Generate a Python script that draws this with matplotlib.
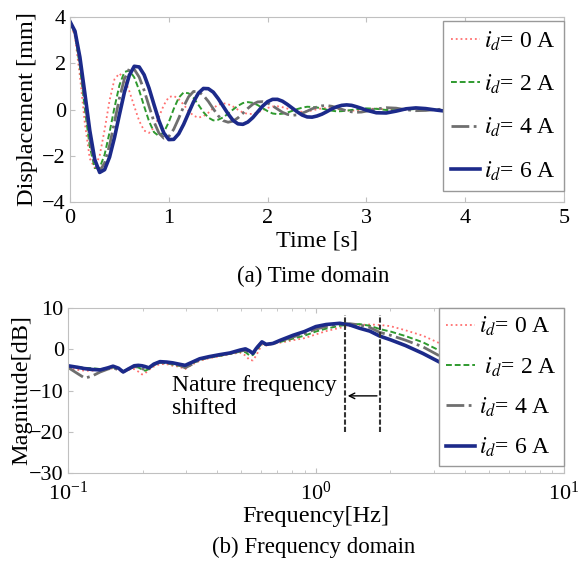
import numpy as np
import matplotlib
matplotlib.use('Agg')
import matplotlib.pyplot as plt

plt.rcParams['font.family'] = ['Liberation Serif', 'DejaVu Serif']
plt.rcParams['mathtext.fontset'] = 'stix'

# --- data: time domain -------------------------------------------------
t = np.round(np.concatenate([np.arange(0, 3.001, 0.05), np.arange(3.1, 5.001, 0.1)]), 2)

x_0A = [3.8, 3.14, 1.45, -0.59, -2.12, -2.53, -1.99, -0.88, 0.39, 1.31,
        1.56, 1.32, 0.80, 0.14, -0.49, -0.91, -1.01, -0.78, -0.32, 0.20,
        0.54, 0.59, 0.45, 0.21, -0.06, -0.27, -0.35, -0.29, -0.14, 0.06,
        0.21, 0.27, 0.23, 0.13, -0.01, -0.13, -0.19, -0.19, -0.13, -0.03,
        0.07, 0.13, 0.14, 0.10, 0.04, -0.03, -0.08, -0.10, -0.08, -0.04,
        0.01, 0.05, 0.07, 0.06, 0.03, -0.01, -0.04, -0.05, -0.04, -0.01,
        0.02,
        0.04, 0.0, -0.03, 0.0, 0.02, 0.0, -0.01, 0.0, 0.01, 0.0,
        0, 0, 0, 0, 0, 0, 0, 0, 0, 0]
x_2A = [3.8, 3.27, 1.86, 0.03, -1.61, -2.53, -2.52, -1.95, -0.99, 0.09,
        1.05, 1.62, 1.69, 1.39, 0.83, 0.14, -0.51, -0.98, -1.15, -0.98,
        -0.54, 0.03, 0.51, 0.74, 0.70, 0.50, 0.20, -0.11, -0.35, -0.47,
        -0.44, -0.34, -0.18, 0.00, 0.16, 0.28, 0.32, 0.29, 0.19, 0.06,
        -0.07, -0.17, -0.20, -0.18, -0.13, -0.06, 0.02, 0.08, 0.12, 0.11,
        0.09, 0.04, -0.01, -0.05, -0.08, -0.07, -0.05, -0.02, 0.01, 0.04,
        0.05,
        0.03, -0.02, -0.03, 0.0, 0.02, 0.01, -0.01, -0.01, 0, 0,
        0, 0, 0, 0, 0, 0, 0, 0, 0, 0]
x_4A = [3.8, 3.34, 2.08, 0.39, -1.25, -2.38, -2.66, -2.31, -1.55, -0.54,
        0.49, 1.32, 1.76, 1.74, 1.40, 0.83, 0.14, -0.53, -1.02, -1.24,
        -1.17, -0.85, -0.38, 0.13, 0.55, 0.78, 0.77, 0.61, 0.35, 0.03,
        -0.27, -0.48, -0.55, -0.50, -0.36, -0.16, 0.05, 0.23, 0.33, 0.34,
        0.28, 0.16, 0.02, -0.12, -0.21, -0.25, -0.23, -0.16, -0.07, 0.03,
        0.11, 0.16, 0.17, 0.14, 0.08, 0.01, -0.06, -0.10, -0.12, -0.11,
        -0.07,
        0.02, 0.08, 0.06, -0.01, -0.05, -0.04, 0.0, 0.02, 0.01, 0,
        0, 0, 0, 0, 0, 0, 0, 0, 0, 0]
x_6A = [3.8, 3.39, 2.26, 0.70, -0.91, -2.16, -2.72, -2.60, -2.06, -1.21,
        -0.22, 0.74, 1.48, 1.87, 1.84, 1.50, 0.92, 0.21, -0.48, -1.02,
        -1.30, -1.29, -1.05, -0.64, -0.15, 0.33, 0.71, 0.91, 0.90, 0.75,
        0.47, 0.14, -0.19, -0.47, -0.62, -0.64, -0.54, -0.35, -0.10, 0.15,
        0.34, 0.44, 0.44, 0.36, 0.22, 0.06, -0.10, -0.24, -0.32, -0.33,
        -0.28, -0.20, -0.09, 0.03, 0.12, 0.18, 0.20, 0.18, 0.12, 0.05,
        -0.03,
        -0.14, -0.15, -0.07, 0.03, 0.07, 0.04, -0.02, -0.07, -0.07, -0.04,
        0.01, 0.03, 0.02, 0.0, -0.01, -0.01, 0.0, 0.01, 0.0, 0.0]

# --- data: frequency domain --------------------------------------------
f = [0.100, 0.110, 0.117, 0.125, 0.135, 0.145, 0.152, 0.160, 0.167, 0.175,
     0.185, 0.192, 0.199, 0.205, 0.212, 0.222, 0.235, 0.250, 0.265, 0.280,
     0.297, 0.315, 0.340, 0.370, 0.410, 0.450, 0.494, 0.520, 0.540, 0.557,
     0.575, 0.606, 0.630, 0.670, 0.720, 0.810, 0.900, 1.000, 1.100, 1.250,
     1.370, 1.500, 1.650, 1.810, 2.000, 2.300, 2.700, 3.200, 3.570, 4.500,
     6.000, 8.000, 10.00]
m_0A = [-4.6, -5.0, -5.2, -5.2, -5.0, -4.8, -4.6, -5.0, -5.6, -5.0,
        -4.8, -5.4, -6.1, -5.8, -5.0, -4.2, -3.6, -3.6, -4.0, -4.2,
        -4.8, -3.8, -2.8, -2.2, -1.7, -1.2, -0.8, -1.5, -2.6, -2.7,
        -1.5, 1.2, 0.9, 1.3, 1.6, 2.2, 2.7, 3.6, 4.4, 5.2,
        5.6, 5.9, 6.0, 5.9, 5.6, 4.6, 3.3, 1.3, -0.2, -2.7,
        -5.8, -8.9, -11.3]
m_2A = [-4.0, -4.3, -4.5, -4.6, -4.8, -4.6, -4.4, -4.7, -5.3, -4.8,
        -4.2, -4.4, -4.9, -5.2, -4.8, -3.8, -3.3, -3.4, -3.7, -4.0,
        -4.2, -3.5, -2.6, -2.0, -1.6, -1.1, -0.6, -0.7, -1.5, -1.4,
        -0.3, 1.5, 1.0, 1.3, 1.8, 2.6, 3.3, 4.3, 5.0, 5.7,
        6.0, 6.1, 5.7, 4.9, 4.3, 3.2, 1.7, -0.5, -2.1, -4.6,
        -7.8, -10.9, -13.3]
m_4A = [-4.4, -6.0, -7.0, -6.5, -5.5, -4.8, -4.5, -5.0, -5.5, -4.8,
        -4.2, -4.3, -4.7, -5.0, -4.6, -3.7, -3.2, -3.3, -3.6, -3.8,
        -4.5, -3.7, -2.5, -1.9, -1.4, -1.0, -0.4, -0.3, -0.7, -1.0,
        0.3, 1.7, 1.1, 1.4, 2.0, 3.0, 3.8, 4.9, 5.5, 6.1,
        6.2, 5.9, 5.3, 4.1, 3.4, 2.2, 0.6, -1.8, -3.5, -6.0,
        -9.1, -12.2, -14.6]
m_6A = [-4.0, -4.4, -4.7, -4.9, -5.0, -4.5, -4.1, -4.6, -5.5, -4.8,
        -4.0, -3.9, -4.0, -4.2, -4.5, -3.6, -3.0, -3.1, -3.3, -3.6,
        -3.9, -3.2, -2.3, -1.8, -1.3, -0.9, -0.2, 0.1, -0.4, -1.0,
        0.2, 1.8, 1.2, 1.4, 2.2, 3.4, 4.3, 5.5, 6.0, 6.3,
        5.9, 5.1, 4.4, 3.2, 2.3, 0.9, -1.0, -3.3, -5.0, -7.7,
        -11.0, -14.0, -16.0]

f_natural = [1.31, 1.81]
labels_a = ['$i_d$= 0 A', '$i_d$= 2 A', '$i_d$= 4 A', '$i_d$= 6 A']
labels_b = ['$i_d$= 0 A', ' $i_d$= 2 A', '$i_d$= 4 A', '$i_d$= 6 A']

styles = [dict(color='#ff6f6f', ls=':', lw=1.3),
          dict(color='#2f9a2f', ls=(0, (3, 1.5)), lw=1.4),
          dict(color='#6f6f6f', ls='-.', lw=2.0),
          dict(color='#1c2a8a', ls='-', lw=2.6)]

fs_tick = 16
fs_lab = 17.5
fs_leg = 17
spine_c = '#c0c0c0'


def style_axes(ax, xpad=3):
    for s in ax.spines.values():
        s.set_color(spine_c)
    ax.tick_params(which='both', direction='in', top=True, right=True,
                   color=spine_c, labelsize=fs_tick, pad=3)
    ax.tick_params(axis='x', which='both', pad=xpad)


fig = plt.figure(figsize=(5.86, 5.66), dpi=100)

# (a) time domain
ax1 = fig.add_axes([0.1195, 0.643, 0.843, 0.327])
for y, st, lb in zip([x_0A, x_2A, x_4A, x_6A], styles, labels_a):
    ax1.plot(t, y, label=lb, **st)
ax1.set_xlim(0, 5)
ax1.set_ylim(-4, 4)
ax1.set_xticks([0, 1, 2, 3, 4, 5])
ax1.set_yticks([-4, -2, 0, 2, 4])
style_axes(ax1, xpad=5)
ax1.set_xlabel('Time [s]', fontsize=fs_lab, labelpad=2)
ax1.set_ylabel('Displacement [mm]', fontsize=fs_lab, labelpad=3)
leg1 = ax1.legend(loc='upper right', bbox_to_anchor=(1.0, 0.978), borderaxespad=0,
                  fontsize=fs_leg, handlelength=1.25, handletextpad=0.15,
                  labelspacing=0.85, fancybox=False, framealpha=1,
                  edgecolor='#999999', borderpad=0.35)
leg1.get_frame().set_linewidth(1.0)
fig.text(0.535, 0.512, '(a) Time domain', ha='center', va='center', fontsize=16.5)

# (b) frequency domain
ax2 = fig.add_axes([0.116, 0.1643, 0.846, 0.2915])
for y, st, lb in zip([m_0A, m_2A, m_4A, m_6A], styles, labels_b):
    ax2.plot(f, y, label=lb, **st)
ax2.set_xscale('log')
ax2.set_xlim(0.1, 10)
ax2.set_ylim(-30, 10)
ax2.set_yticks([-30, -20, -10, 0, 10])
style_axes(ax2, xpad=6)
for fn in f_natural:
    ax2.plot([fn, fn], [-20, 8.3], color='#333333', ls=(0, (2.5, 1)), lw=1.5)
ax2.annotate('', xy=(f_natural[0], -11.3), xytext=(f_natural[1], -11.3),
             arrowprops=dict(arrowstyle='->', color='black', lw=1.0))
ax2.text(0.262, -11.6, 'Nature frequency\nshifted', fontsize=fs_leg,
         ha='left', va='center', linespacing=1.1)
ax2.set_xlabel('Frequency[Hz]', fontsize=fs_lab, labelpad=1)
ax2.set_ylabel('Magnitude[dB]', fontsize=fs_lab, labelpad=-2)
leg2 = ax2.legend(loc='upper right', bbox_to_anchor=(1.0, 1.0), borderaxespad=0,
                  fontsize=fs_leg, handlelength=1.25, handletextpad=0.15,
                  labelspacing=0.72, fancybox=False, framealpha=1,
                  edgecolor='#999999', borderpad=0.3)
leg2.get_frame().set_linewidth(1.0)
fig.text(0.535, 0.032, '(b) Frequency domain', ha='center', va='center', fontsize=16.5)

fig.savefig('out.png', dpi=100)
